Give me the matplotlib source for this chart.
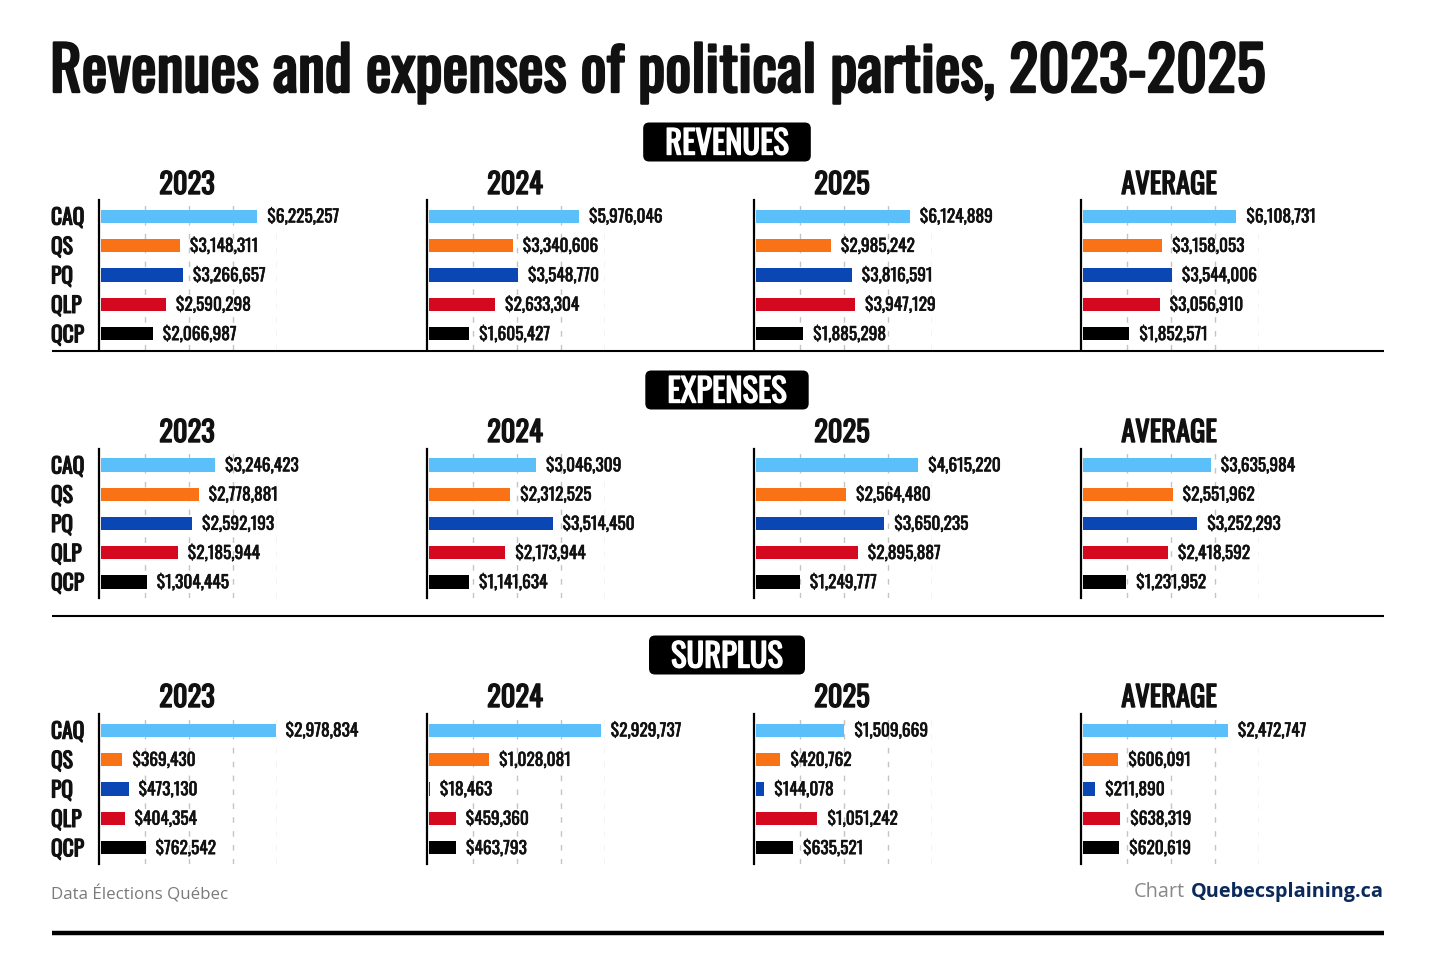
import matplotlib
matplotlib.use('Agg')
import matplotlib.pyplot as plt
import matplotlib.patheffects as pe
from matplotlib import font_manager
from matplotlib.lines import Line2D
from matplotlib.patches import FancyBboxPatch
from matplotlib.transforms import offset_copy, IdentityTransform

# data (Élections Québec)
parties = ['CAQ', 'QS', 'PQ', 'QLP', 'QCP']
party_colors = ['#5bbff9', '#f97316', '#0a47b5', '#d4081f', '#000000']
columns = ['2023', '2024', '2025', 'AVERAGE']

rev_2023 = [6225257, 3148311, 3266657, 2590298, 2066987]
rev_2024 = [5976046, 3340606, 3548770, 2633304, 1605427]
rev_2025 = [6124889, 2985242, 3816591, 3947129, 1885298]
rev_avg = [6108731, 3158053, 3544006, 3056910, 1852571]

exp_2023 = [3246423, 2778881, 2592193, 2185944, 1304445]
exp_2024 = [3046309, 2312525, 3514450, 2173944, 1141634]
exp_2025 = [4615220, 2564480, 3650235, 2895887, 1249777]
exp_avg = [3635984, 2551962, 3252293, 2418592, 1231952]

sur_2023 = [2978834, 369430, 473130, 404354, 762542]
sur_2024 = [2929737, 1028081, 18463, 459360, 463793]
sur_2025 = [1509669, 420762, 144078, 1051242, 635521]
sur_avg = [2472747, 606091, 211890, 638319, 620619]

W, H = 1456, 971

names = {f.name for f in font_manager.fontManager.ttflist}
COND = 'Oswald' if 'Oswald' in names else 'DejaVu Sans'
SANS = 'Open Sans' if 'Open Sans' in names else 'DejaVu Sans'
INK = '#111111'


def bold(lw, color=INK):
    # only the regular Oswald is there, so thicken it with a stroke
    return [pe.withStroke(linewidth=lw, foreground=color)]


fig = plt.figure(figsize=(W / 100, H / 100), dpi=100)
fig.patch.set_facecolor('white')
r = fig.canvas.get_renderer()


def px_axes(x, y, w, h):
    return fig.add_axes([x / W, 1 - (y + h) / H, w / W, h / H])


def hline(y, lw):
    fig.add_artist(Line2D([52 / W, 1384 / W], [1 - y / H, 1 - y / H],
                          color='black', lw=lw, solid_capstyle='butt'))


fig.text(50 / W, 1 - 92 / H, 'Revenues and expenses of political parties, 2023-2025',
         family=COND, size=44, va='baseline', ha='left', color=INK,
         path_effects=bold(1.7))

# title, data, xmax, box y, year baseline, axis top, axis bottom
sections = [
    ('REVENUES', [rev_2023, rev_2024, rev_2025, rev_avg], 7e6, 142, 194, 200, 350),
    ('EXPENSES', [exp_2023, exp_2024, exp_2025, exp_avg], 5e6, 390, 442, 449, 598),
    ('SURPLUS', [sur_2023, sur_2024, sur_2025, sur_avg], 3e6, 655, 707, 714, 864),
]
col_x = [99, 427, 754, 1081]
ax_w = 176
gap = 1.8  # bars start a hair right of the axis line

for title, data, xmax, box_y, year_y, top, bottom in sections:
    t = fig.text(727 / W, 1 - (box_y + 12.5) / H, title, family=COND, size=23.5,
                 color='white', ha='center', va='baseline', zorder=5,
                 path_effects=bold(1.0, 'white'))
    bb = t.get_window_extent(r)
    bw, bh = bb.width + 44, 39
    box = FancyBboxPatch((727 - bw / 2, H - box_y - bh / 2), bw, bh,
                         boxstyle='round,pad=0,rounding_size=6', fc='black', ec='none',
                         transform=IdentityTransform(), zorder=4)
    fig.add_artist(box)

    for j, vals in enumerate(data):
        x0 = col_x[j]
        ax = px_axes(x0, top, ax_w + gap, bottom - top)
        ax.set_xlim(-xmax * gap / ax_w, xmax)
        ax.set_ylim(4.55, -0.55)
        for k in (0.25, 0.5, 0.75, 1.0):
            ax.axvline(xmax * k, color='#c4c4c4', lw=1, ls=(0, (4, 6)), zorder=0)
        ax.barh(range(5), vals, height=0.45, color=party_colors, zorder=2)
        lab_tr = offset_copy(ax.transData, fig=fig, x=10, y=-6.3, units='dots')
        for i, v in enumerate(vals):
            ax.text(v, i, f'${v:,}', transform=lab_tr, family=COND, size=12.5,
                    va='baseline', ha='left', color=INK, clip_on=False,
                    path_effects=bold(0.4))
        for s in ('top', 'right', 'bottom'):
            ax.spines[s].set_visible(False)
        ax.spines['left'].set_linewidth(1.6)
        ax.spines['left'].set_color('black')
        ax.set_xticks([])
        ax.set_yticks([])
        ax.patch.set_alpha(0)
        if j == 0:
            name_tr = offset_copy(ax.get_yaxis_transform(), fig=fig, x=0, y=-8.5,
                                  units='dots')
            for i, p in enumerate(parties):
                ax.text((51 - x0) / (ax_w + gap), i, p, transform=name_tr, family=COND,
                        size=15.5, va='baseline', ha='left', color=INK, clip_on=False,
                        path_effects=bold(0.85))
        fig.text((x0 + ax_w / 2) / W, 1 - year_y / H, columns[j], family=COND,
                 size=20.5, ha='center', va='baseline', color=INK,
                 path_effects=bold(1.0))

hline(351, 1.5)
hline(616, 1.5)
hline(933, 3.2)

fig.text(51 / W, 1 - 894 / H, 'Data Élections Québec', family=SANS, size=12.2,
         color='#7a7a7a', ha='left', va='center')
brand = fig.text(1384 / W, 1 - 892 / H, 'Quebecsplaining.ca', family=SANS, weight='bold',
                 size=14.3, color='#0b2a5b', ha='right', va='center')
bx = brand.get_window_extent(r).x0
fig.text((bx - 6) / W, 1 - 892 / H, 'Chart', family=SANS, size=14.3,
         color='#888888', ha='right', va='center')

fig.savefig('out.png', dpi=100)
